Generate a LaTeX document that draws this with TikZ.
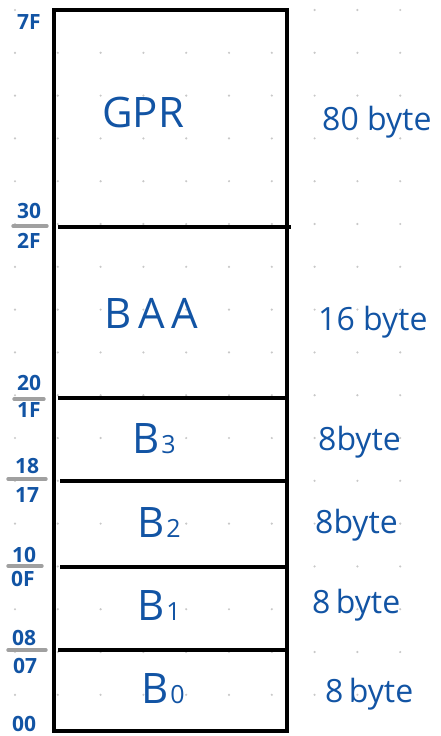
\documentclass[tikz,border=0pt]{standalone}
\usepackage{fontspec}
\setmainfont{Open Sans}
\definecolor{ink}{RGB}{18,84,164}
\definecolor{dotc}{RGB}{200,200,200}
\definecolor{sepc}{RGB}{160,160,160}
\begin{document}
\begin{tikzpicture}[x=1pt,y=-1pt,
  hexlbl/.style={text=ink,font=\fontsize{21}{21}\selectfont\bfseries,inner sep=0pt,anchor=base},
  reglbl/.style={text=ink,font=\fontsize{42}{42}\selectfont,inner sep=0pt,anchor=base west},
  sizelbl/.style={text=ink,font=\fontsize{32}{32}\selectfont,inner sep=0pt,anchor=base west},
  boxline/.style={line width=3.2pt,black},
  sepline/.style={line width=3.4pt,sepc,line cap=round}]
\useasboundingbox (0,0) rectangle (441,736);
% dot grid
\foreach \i in {0,...,9} \foreach \j in {0,...,16}
  \fill[dotc] (15+\i*42.8,10+\j*42.8) circle (1.2);
% memory box
\draw[boxline] (54,10) rectangle (287,731);
\draw[boxline] (58,227) -- (291,227);
\draw[boxline] (58,398) -- (287,398);
\draw[boxline] (60,481) -- (289,481);
\draw[boxline] (60,567) -- (287,567);
\draw[boxline] (58,650) -- (287,650);
% address labels
\node[hexlbl] (a7F) at (29,29) {7F};
\node[hexlbl] (a30) at (29,218) {30};
\draw[sepline] (13,226) -- (47,226);
\node[hexlbl] (a2F) at (29,248) {2F};
\node[hexlbl] (a20) at (29,390) {20};
\draw[sepline] (14,399) -- (44,399);
\node[hexlbl] (a1F) at (29,417) {1F};
\node[hexlbl] (a18) at (27,473) {18};
\draw[sepline] (8,479) -- (46,479);
\node[hexlbl] (a17) at (27,502) {17};
\node[hexlbl] (a10) at (24,562) {10};
\draw[sepline] (8,566) -- (42,566);
\node[hexlbl] (a0F) at (23,586) {0F};
\node[hexlbl] (a08) at (24,645) {08};
\draw[sepline] (8,650) -- (46,650);
\node[hexlbl] (a07) at (25,673) {07};
\node[hexlbl] (a00) at (24,731) {00};
% register names
\node[reglbl] (gpr) at (102,127) {GPR};
\node[reglbl] (baa) at (104,328) {B\,A\,A};
\node[reglbl] (b3) at (132,453) {B\hspace{2pt}{\fontsize{25}{25}\selectfont 3}};
\node[reglbl] (b2) at (137,537) {B\hspace{2pt}{\fontsize{25}{25}\selectfont 2}};
\node[reglbl] (b1) at (137,620) {B\hspace{2pt}{\fontsize{25}{25}\selectfont 1}};
\node[reglbl] (b0) at (141,703) {B\hspace{2pt}{\fontsize{25}{25}\selectfont 0}};
% sizes
\node[sizelbl] (s80) at (322,130) {80 byte};
\node[sizelbl] (s16) at (318,330) {16 byte};
\node[sizelbl] (s8c) at (318,450) {8byte};
\node[sizelbl] (s8b) at (315,533) {8byte};
\node[sizelbl] (s8a) at (312,613) {8\,byte};
\node[sizelbl] (s8z) at (325,702) {8\,byte};
\end{tikzpicture}
\end{document}
